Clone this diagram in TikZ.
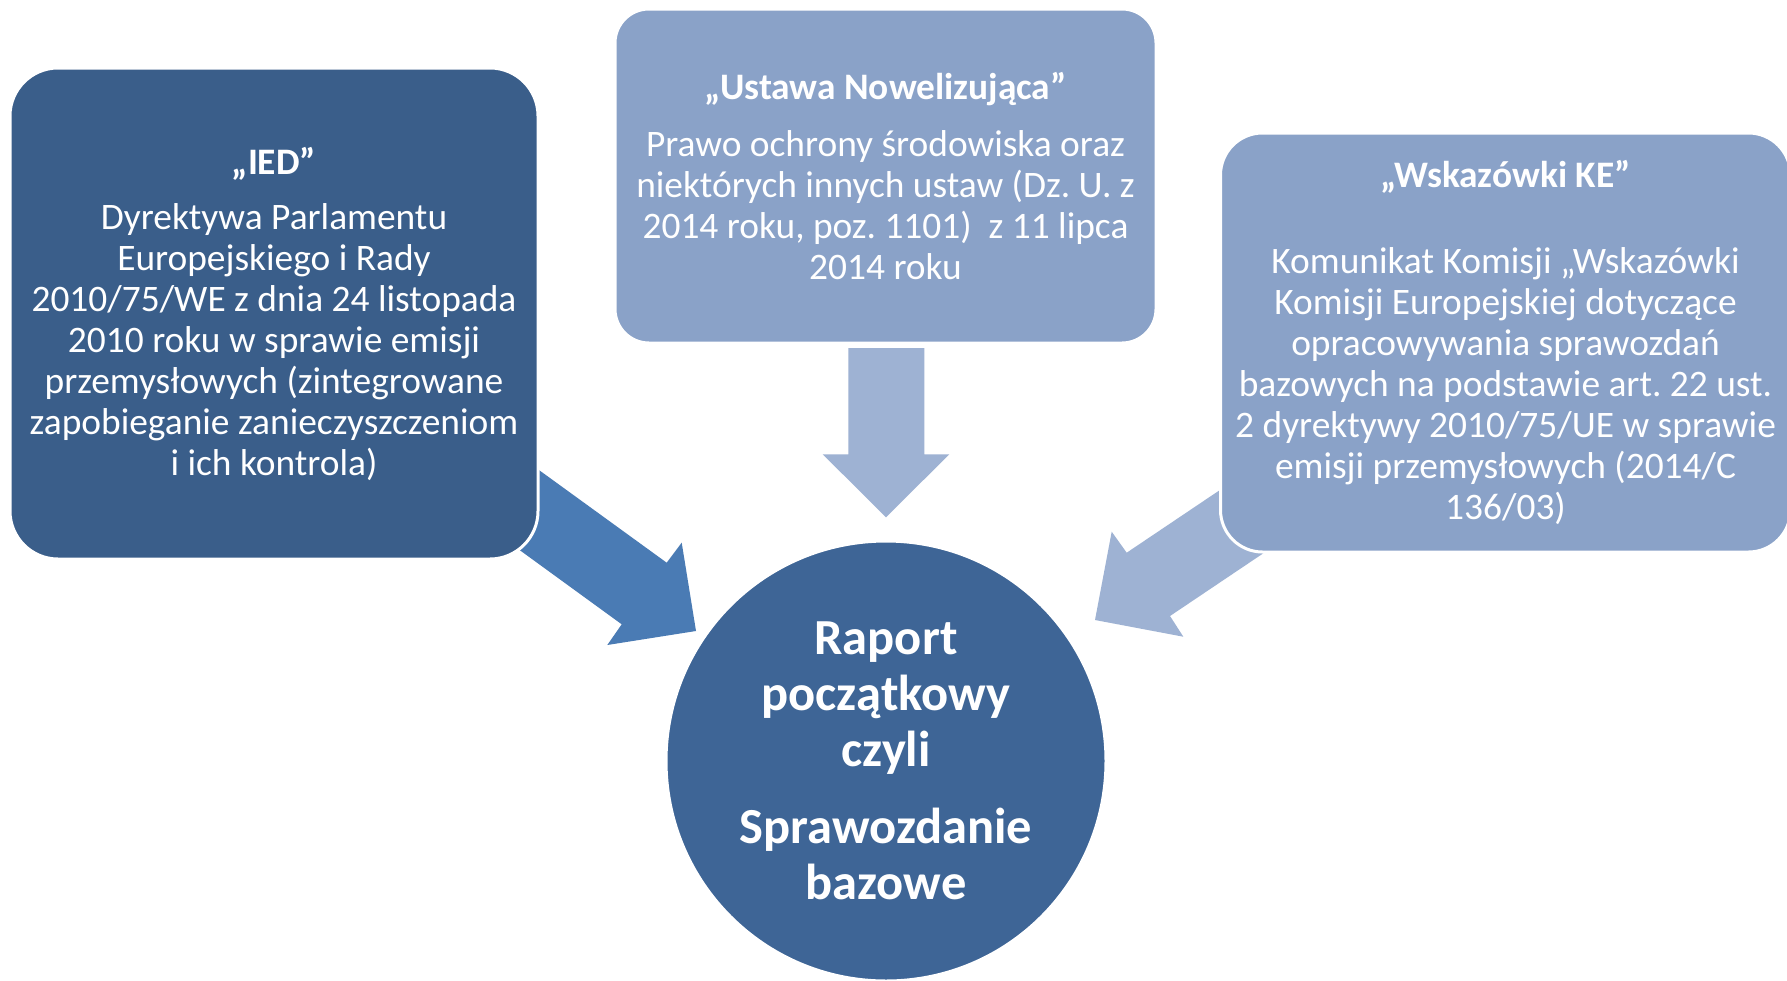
\documentclass[tikz,border=0pt]{standalone}
\usepackage{fontspec}
\setmainfont{Carlito}
\frenchspacing
\definecolor{boxdark}{HTML}{3A5E8A}
\definecolor{boxlight}{HTML}{8AA2C8}
\definecolor{circfill}{HTML}{3E6596}
\definecolor{arrdark}{HTML}{4A7BB4}
\definecolor{arrlight}{HTML}{9EB2D3}
\tikzset{
  srcbox/.style={rectangle, draw=white, line width=3pt, text=white, align=center, inner sep=0pt},
  bodytext/.style={font=\fontsize{37.4}{41}\selectfont},
  hubcircle/.style={circle, draw=white, line width=3pt, fill=circfill, text=white, align=center, inner sep=0pt,
     font=\fontsize{50.5}{56}\selectfont\bfseries},
  blockarrow/.style={draw=none}
}
\begin{document}
\begin{tikzpicture}[x=1pt,y=-1pt]
\useasboundingbox (0,0) rectangle (1787,980);
\clip (0,0) rectangle (1787,980);
\fill[white] (0,0) rectangle (1787,980);

% block arrows (drawn first, boxes lie over their tails)
\fill[arrdark, blockarrow] (470,420) -- (666.7,562.7) -- (681.7,542.7) -- (696,631)
   -- (607.3,645) -- (621.7,624.3) -- (425.4,481.5) -- cycle;
\fill[arrlight, blockarrow] (848.3,348) -- (924.3,348) -- (924.3,454.3) -- (949.3,454.3)
   -- (886,517.3) -- (822.7,454.3) -- (848.3,454.3) -- cycle;
\fill[arrlight, blockarrow] (1251.2,469) -- (1126.7,552.7) -- (1111.7,531.7) -- (1095,620)
   -- (1183.3,636.7) -- (1170,616) -- (1294.5,532.3) -- cycle;

% source boxes
\node[srcbox, fill=boxdark, rounded corners=48pt, minimum width=528pt, minimum height=491pt, bodytext]
  (ied) at (274,313.5)
  {\textbf{„IED”}\\[14pt]
   Dyrektywa Parlamentu\\
   Europejskiego i Rady\\
   2010/75/WE z dnia 24 listopada\\
   2010 roku w sprawie emisji\\
   przemysłowych (zintegrowane\\
   zapobieganie zanieczyszczeniom\\
   i ich kontrola)};

\node[srcbox, fill=boxlight, rounded corners=34pt, minimum width=541pt, minimum height=334pt, bodytext]
  (ustawa) at (885.5,176)
  {\textbf{„Ustawa Nowelizująca”}\\[16pt]
   Prawo ochrony środowiska oraz\\
   niektórych innych ustaw (Dz. U. z\\
   2014 roku, poz. 1101)~~z 11 lipca\\
   2014 roku};

\node[srcbox, fill=boxlight, rounded corners=42pt, minimum width=570pt, minimum height=419pt, bodytext]
  (ke) at (1505.5,342.5)
  {\textbf{„Wskazówki KE”}\\[45pt]
   Komunikat Komisji „Wskazówki\\
   Komisji Europejskiej dotyczące\\
   opracowywania sprawozdań\\
   bazowych na podstawie art. 22 ust.\\
   2 dyrektywy 2010/75/UE w sprawie\\
   emisji przemysłowych (2014/C\\
   136/03)};

% central circle
\node[hubcircle, minimum size=440pt] (raport) at (886,761)
  {Raport\\ początkowy\\ czyli\\[21pt] Sprawozdanie\\ bazowe};
\end{tikzpicture}
\end{document}
